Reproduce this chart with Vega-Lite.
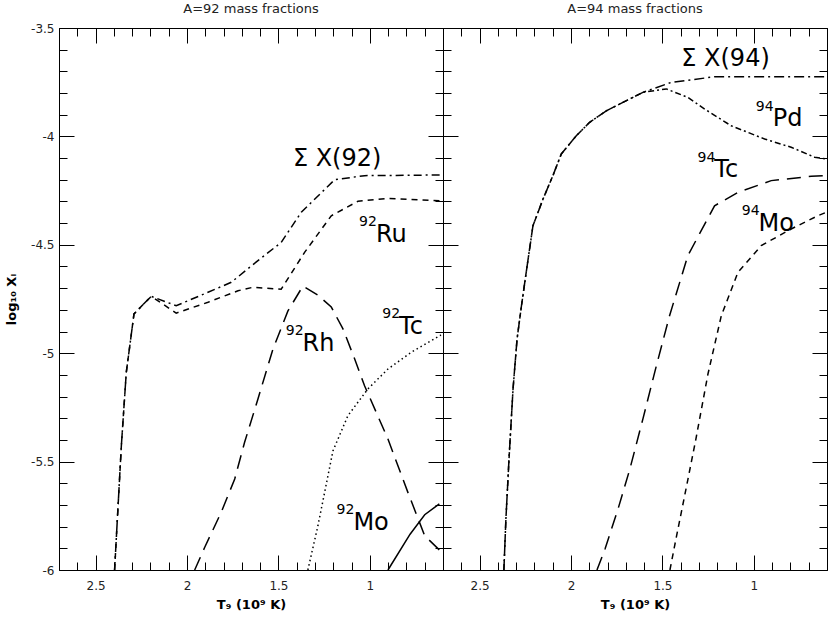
{
"$schema": "https://vega.github.io/schema/vega-lite/v6.json",
"background": "white",
"padding": {"left": 5, "top": 2, "right": 0, "bottom": 0},
"spacing": 0,
"bounds": "flush",
"config": {
  "view": {"stroke": "black", "strokeWidth": 1},
  "axis": {"domain": false, "grid": false, "tickColor": "black", "tickWidth": 1, "labelFont": "DejaVu Sans", "labelFontSize": 12, "labelColor": "#222", "titleFont": "DejaVu Sans", "titleFontSize": 13, "titleFontWeight": "bold", "titleColor": "black", "labelOverlap": false, "labelFlush": false, "minExtent": 0},
  "title": {"font": "DejaVu Sans", "fontSize": 13, "fontWeight": "normal", "color": "#222", "offset": 6},
  "line": {"strokeWidth": 1.5, "color": "black", "clip": true},
  "text": {"font": "DejaVu Sans", "color": "black"}
},
"datasets": {
  "a92": [
    {"s":"sum","T":2.396,"v":-6.0},{"s":"sum","T":2.359,"v":-5.427},{"s":"sum","T":2.332,"v":-5.088},{"s":"sum","T":2.308,"v":-4.935},{"s":"sum","T":2.29,"v":-4.819},{"s":"sum","T":2.228,"v":-4.765},{"s":"sum","T":2.195,"v":-4.738},{"s":"sum","T":2.059,"v":-4.781},{"s":"sum","T":1.885,"v":-4.719},{"s":"sum","T":1.758,"v":-4.673},{"s":"sum","T":1.612,"v":-4.573},{"s":"sum","T":1.485,"v":-4.489},{"s":"sum","T":1.375,"v":-4.35},{"s":"sum","T":1.193,"v":-4.2},{"s":"sum","T":1.029,"v":-4.181},{"s":"sum","T":0.611,"v":-4.178},
    {"s":"ru","T":2.396,"v":-6.0},{"s":"ru","T":2.359,"v":-5.427},{"s":"ru","T":2.332,"v":-5.088},{"s":"ru","T":2.308,"v":-4.935},{"s":"ru","T":2.29,"v":-4.819},{"s":"ru","T":2.228,"v":-4.765},{"s":"ru","T":2.195,"v":-4.738},{"s":"ru","T":2.059,"v":-4.815},{"s":"ru","T":1.885,"v":-4.765},{"s":"ru","T":1.721,"v":-4.712},{"s":"ru","T":1.64,"v":-4.696},{"s":"ru","T":1.485,"v":-4.705},{"s":"ru","T":1.357,"v":-4.535},{"s":"ru","T":1.211,"v":-4.366},{"s":"ru","T":1.065,"v":-4.299},{"s":"ru","T":0.901,"v":-4.286},{"s":"ru","T":0.611,"v":-4.297},
    {"s":"rh","T":1.958,"v":-6.0},{"s":"rh","T":1.903,"v":-5.895},{"s":"rh","T":1.813,"v":-5.734},{"s":"rh","T":1.739,"v":-5.58},{"s":"rh","T":1.685,"v":-5.411},{"s":"rh","T":1.612,"v":-5.211},{"s":"rh","T":1.53,"v":-4.981},{"s":"rh","T":1.448,"v":-4.805},{"s":"rh","T":1.366,"v":-4.69},{"s":"rh","T":1.284,"v":-4.732},{"s":"rh","T":1.211,"v":-4.787},{"s":"rh","T":1.147,"v":-4.888},{"s":"rh","T":1.083,"v":-5.027},{"s":"rh","T":1.029,"v":-5.15},{"s":"rh","T":0.901,"v":-5.396},{"s":"rh","T":0.792,"v":-5.642},{"s":"rh","T":0.70,"v":-5.842},{"s":"rh","T":0.611,"v":-5.915},
    {"s":"tc","T":1.339,"v":-6.0},{"s":"tc","T":1.284,"v":-5.796},{"s":"tc","T":1.202,"v":-5.451},{"s":"tc","T":1.12,"v":-5.288},{"s":"tc","T":1.011,"v":-5.165},{"s":"tc","T":0.901,"v":-5.073},{"s":"tc","T":0.774,"v":-4.996},{"s":"tc","T":0.611,"v":-4.916},
    {"s":"mo","T":0.901,"v":-6.0},{"s":"mo","T":0.78,"v":-5.835},{"s":"mo","T":0.70,"v":-5.745},{"s":"mo","T":0.62,"v":-5.695}
  ],
  "a94": [
    {"s":"sum","T":2.367,"v":-6.0},{"s":"sum","T":2.356,"v":-5.765},{"s":"sum","T":2.339,"v":-5.488},{"s":"sum","T":2.317,"v":-5.165},{"s":"sum","T":2.295,"v":-4.935},{"s":"sum","T":2.272,"v":-4.788},{"s":"sum","T":2.245,"v":-4.627},{"s":"sum","T":2.208,"v":-4.412},{"s":"sum","T":2.153,"v":-4.289},{"s":"sum","T":2.099,"v":-4.181},{"s":"sum","T":2.053,"v":-4.081},{"s":"sum","T":1.971,"v":-3.997},{"s":"sum","T":1.898,"v":-3.935},{"s":"sum","T":1.807,"v":-3.882},{"s":"sum","T":1.716,"v":-3.843},{"s":"sum","T":1.607,"v":-3.797},{"s":"sum","T":1.452,"v":-3.751},{"s":"sum","T":1.215,"v":-3.725},{"s":"sum","T":0.601,"v":-3.725},
    {"s":"pd","T":2.367,"v":-6.0},{"s":"pd","T":2.356,"v":-5.765},{"s":"pd","T":2.339,"v":-5.488},{"s":"pd","T":2.317,"v":-5.165},{"s":"pd","T":2.295,"v":-4.935},{"s":"pd","T":2.272,"v":-4.788},{"s":"pd","T":2.245,"v":-4.627},{"s":"pd","T":2.208,"v":-4.412},{"s":"pd","T":2.153,"v":-4.289},{"s":"pd","T":2.099,"v":-4.181},{"s":"pd","T":2.053,"v":-4.081},{"s":"pd","T":1.971,"v":-3.997},{"s":"pd","T":1.898,"v":-3.935},{"s":"pd","T":1.807,"v":-3.882},{"s":"pd","T":1.716,"v":-3.843},{"s":"pd","T":1.607,"v":-3.797},{"s":"pd","T":1.479,"v":-3.781},{"s":"pd","T":1.361,"v":-3.82},{"s":"pd","T":1.269,"v":-3.874},{"s":"pd","T":1.124,"v":-3.951},{"s":"pd","T":0.941,"v":-4.012},{"s":"pd","T":0.796,"v":-4.05},{"s":"pd","T":0.668,"v":-4.096},{"s":"pd","T":0.601,"v":-4.105},
    {"s":"tc","T":1.858,"v":-6.0},{"s":"tc","T":1.814,"v":-5.903},{"s":"tc","T":1.743,"v":-5.719},{"s":"tc","T":1.678,"v":-5.534},{"s":"tc","T":1.607,"v":-5.304},{"s":"tc","T":1.535,"v":-5.064},{"s":"tc","T":1.461,"v":-4.827},{"s":"tc","T":1.361,"v":-4.55},{"s":"tc","T":1.215,"v":-4.32},{"s":"tc","T":1.087,"v":-4.258},{"s":"tc","T":0.905,"v":-4.204},{"s":"tc","T":0.686,"v":-4.184},{"s":"tc","T":0.601,"v":-4.18},
    {"s":"mo","T":1.459,"v":-6.0},{"s":"mo","T":1.426,"v":-5.857},{"s":"mo","T":1.371,"v":-5.626},{"s":"mo","T":1.317,"v":-5.396},{"s":"mo","T":1.251,"v":-5.096},{"s":"mo","T":1.178,"v":-4.827},{"s":"mo","T":1.087,"v":-4.627},{"s":"mo","T":0.96,"v":-4.504},{"s":"mo","T":0.796,"v":-4.427},{"s":"mo","T":0.65,"v":-4.366},{"s":"mo","T":0.601,"v":-4.349}
  ],
  "lab92": [
    {"m":"92","el":"Ru","T":0.967,"v":-4.486},{"m":"92","el":"Rh","T":1.368,"v":-4.988},{"m":"92","el":"Tc","T":0.84,"v":-4.911},{"m":"92","el":"Mo","T":1.09,"v":-5.814}
  ],
  "sum92": [{"txt":"Σ X(92)","T":1.179,"v":-4.135}],
  "lab94": [
    {"m":"94","el":"Pd","T":0.897,"v":-3.953},{"m":"94","el":"Tc","T":1.216,"v":-4.189},{"m":"94","el":"Mo","T":0.974,"v":-4.435}
  ],
  "sum94": [{"txt":"Σ X(94)","T":1.155,"v":-3.674}]
},
"hconcat": [
{
  "width": 384, "height": 542,
  "title": {"text": "A=92 mass fractions", "offset": 6},
  "data": {"name": "a92"},
  "resolve": {"axis": {"x": "independent", "y": "independent"}},
  "layer": [
    {"transform": [{"filter": "datum.s == 'sum'"}],
     "mark": {"type": "line", "strokeDash": [8,4,2,4]},
     "encoding": {
       "x": {"field": "T", "type": "quantitative", "scale": {"domain": [0.6, 2.7], "reverse": true, "nice": false, "zero": false},
             "axis": {"orient": "bottom", "values": [2.5,2,1.5,1], "ticks": false, "labelPadding": 10, "labelExpr": "datum.value + ''", "title": "T₉ (10⁹ K)", "titlePadding": 7}},
       "y": {"field": "v", "type": "quantitative", "scale": {"domain": [-6, -3.5], "nice": false, "zero": false},
             "axis": {"orient": "left", "values": [-6,-5.5,-5,-4.5,-4,-3.5], "ticks": false, "labelPadding": 5, "labelExpr": "datum.value + ''", "title": "log₁₀ Xᵢ", "titlePadding": 12}}
     }},
    {"transform": [{"filter": "datum.s == 'ru'"}],
     "mark": {"type": "line", "strokeDash": [6,5]},
     "encoding": {
       "x": {"field": "T", "type": "quantitative", "axis": {"orient": "bottom", "values": [2.7,2.6,2.5,2.4,2.3,2.2,2.1,2.0,1.9,1.8,1.7,1.6,1.5,1.4,1.3,1.2,1.1,1.0,0.9,0.8,0.7,0.6], "tickSize": -8, "labels": false, "title": null}},
       "y": {"field": "v", "type": "quantitative", "axis": {"orient": "left", "values": [-6,-5.9,-5.8,-5.7,-5.6,-5.5,-5.4,-5.3,-5.2,-5.1,-5,-4.9,-4.8,-4.7,-4.6,-4.5,-4.4,-4.3,-4.2,-4.1,-4,-3.9,-3.8,-3.7,-3.6,-3.5], "tickSize": -8, "labels": false, "title": null}}
     }},
    {"transform": [{"filter": "datum.s == 'rh'"}],
     "mark": {"type": "line", "strokeDash": [14,8]},
     "encoding": {
       "x": {"field": "T", "type": "quantitative", "axis": {"orient": "bottom", "values": [2.5,2,1.5,1], "tickSize": -15, "labels": false, "title": null}},
       "y": {"field": "v", "type": "quantitative", "axis": {"orient": "left", "values": [-6,-5.5,-5,-4.5,-4,-3.5], "tickSize": -15, "labels": false, "title": null}}
     }},
    {"transform": [{"filter": "datum.s == 'tc'"}],
     "mark": {"type": "line", "strokeDash": [1.5,3]},
     "encoding": {
       "x": {"field": "T", "type": "quantitative", "axis": {"orient": "top", "values": [2.7,2.6,2.5,2.4,2.3,2.2,2.1,2.0,1.9,1.8,1.7,1.6,1.5,1.4,1.3,1.2,1.1,1.0,0.9,0.8,0.7,0.6], "tickSize": -8, "labels": false, "title": null}},
       "y": {"field": "v", "type": "quantitative", "axis": {"orient": "right", "values": [-6,-5.9,-5.8,-5.7,-5.6,-5.5,-5.4,-5.3,-5.2,-5.1,-5,-4.9,-4.8,-4.7,-4.6,-4.5,-4.4,-4.3,-4.2,-4.1,-4,-3.9,-3.8,-3.7,-3.6,-3.5], "tickSize": -8, "labels": false, "title": null}}
     }},
    {"transform": [{"filter": "datum.s == 'mo'"}],
     "mark": {"type": "line"},
     "encoding": {
       "x": {"field": "T", "type": "quantitative", "axis": {"orient": "top", "values": [2.5,2,1.5,1], "tickSize": -15, "labels": false, "title": null}},
       "y": {"field": "v", "type": "quantitative", "axis": {"orient": "right", "values": [-6,-5.5,-5,-4.5,-4,-3.5], "tickSize": -15, "labels": false, "title": null}}
     }},
    {"data": {"name": "lab92"},
     "mark": {"type": "text", "align": "left", "baseline": "alphabetic", "fontSize": 24},
     "encoding": {"x": {"field": "T", "type": "quantitative", "axis": null}, "y": {"field": "v", "type": "quantitative", "axis": null}, "text": {"field": "el"}}},
    {"data": {"name": "lab92"},
     "mark": {"type": "text", "align": "right", "baseline": "alphabetic", "fontSize": 14, "dx": 1, "dy": -15.5},
     "encoding": {"x": {"field": "T", "type": "quantitative", "axis": null}, "y": {"field": "v", "type": "quantitative", "axis": null}, "text": {"field": "m"}}},
    {"data": {"name": "sum92"},
     "mark": {"type": "text", "align": "center", "baseline": "alphabetic", "fontSize": 24},
     "encoding": {"x": {"field": "T", "type": "quantitative", "axis": null}, "y": {"field": "v", "type": "quantitative", "axis": null}, "text": {"field": "txt"}}}
  ]
},
{
  "width": 384, "height": 542,
  "title": {"text": "A=94 mass fractions", "offset": 12},
  "data": {"name": "a94"},
  "resolve": {"axis": {"x": "independent", "y": "independent"}},
  "layer": [
    {"transform": [{"filter": "datum.s == 'sum'"}],
     "mark": {"type": "line", "strokeDash": [10,4,2,4]},
     "encoding": {
       "x": {"field": "T", "type": "quantitative", "scale": {"domain": [0.6, 2.7], "reverse": true, "nice": false, "zero": false},
             "axis": {"orient": "bottom", "values": [2.5,2,1.5,1], "ticks": false, "labelPadding": 10, "labelExpr": "datum.value + ''", "title": "T₉ (10⁹ K)", "titlePadding": 7}},
       "y": {"field": "v", "type": "quantitative", "scale": {"domain": [-6, -3.5], "nice": false, "zero": false},
             "axis": {"orient": "left", "values": [-6,-5.9,-5.8,-5.7,-5.6,-5.5,-5.4,-5.3,-5.2,-5.1,-5,-4.9,-4.8,-4.7,-4.6,-4.5,-4.4,-4.3,-4.2,-4.1,-4,-3.9,-3.8,-3.7,-3.6,-3.5], "tickSize": -8, "labels": false, "title": null}}
     }},
    {"transform": [{"filter": "datum.s == 'pd'"}],
     "mark": {"type": "line", "strokeDash": [6,3,2,3]},
     "encoding": {
       "x": {"field": "T", "type": "quantitative", "axis": {"orient": "bottom", "values": [2.7,2.6,2.5,2.4,2.3,2.2,2.1,2.0,1.9,1.8,1.7,1.6,1.5,1.4,1.3,1.2,1.1,1.0,0.9,0.8,0.7,0.6], "tickSize": -8, "labels": false, "title": null}},
       "y": {"field": "v", "type": "quantitative", "axis": {"orient": "left", "values": [-6,-5.5,-5,-4.5,-4,-3.5], "tickSize": -15, "labels": false, "title": null}}
     }},
    {"transform": [{"filter": "datum.s == 'tc'"}],
     "mark": {"type": "line", "strokeDash": [14,8]},
     "encoding": {
       "x": {"field": "T", "type": "quantitative", "axis": {"orient": "bottom", "values": [2.5,2,1.5,1], "tickSize": -15, "labels": false, "title": null}},
       "y": {"field": "v", "type": "quantitative", "axis": {"orient": "right", "values": [-6,-5.9,-5.8,-5.7,-5.6,-5.5,-5.4,-5.3,-5.2,-5.1,-5,-4.9,-4.8,-4.7,-4.6,-4.5,-4.4,-4.3,-4.2,-4.1,-4,-3.9,-3.8,-3.7,-3.6,-3.5], "tickSize": -8, "labels": false, "title": null}}
     }},
    {"transform": [{"filter": "datum.s == 'mo'"}],
     "mark": {"type": "line", "strokeDash": [6,5]},
     "encoding": {
       "x": {"field": "T", "type": "quantitative", "axis": {"orient": "top", "values": [2.7,2.6,2.5,2.4,2.3,2.2,2.1,2.0,1.9,1.8,1.7,1.6,1.5,1.4,1.3,1.2,1.1,1.0,0.9,0.8,0.7,0.6], "tickSize": -8, "labels": false, "title": null}},
       "y": {"field": "v", "type": "quantitative", "axis": {"orient": "right", "values": [-6,-5.5,-5,-4.5,-4,-3.5], "tickSize": -15, "labels": false, "title": null}}
     }},
    {"data": {"name": "lab94"},
     "mark": {"type": "text", "align": "left", "baseline": "alphabetic", "fontSize": 24},
     "encoding": {"x": {"field": "T", "type": "quantitative", "axis": {"orient": "top", "values": [2.5,2,1.5,1], "tickSize": -15, "labels": false, "title": null}}, "y": {"field": "v", "type": "quantitative", "axis": null}, "text": {"field": "el"}}},
    {"data": {"name": "lab94"},
     "mark": {"type": "text", "align": "right", "baseline": "alphabetic", "fontSize": 14, "dx": 1, "dy": -15.5},
     "encoding": {"x": {"field": "T", "type": "quantitative", "axis": null}, "y": {"field": "v", "type": "quantitative", "axis": null}, "text": {"field": "m"}}},
    {"data": {"name": "sum94"},
     "mark": {"type": "text", "align": "center", "baseline": "alphabetic", "fontSize": 24},
     "encoding": {"x": {"field": "T", "type": "quantitative", "axis": null}, "y": {"field": "v", "type": "quantitative", "axis": null}, "text": {"field": "txt"}}}
  ]
}
]
}
